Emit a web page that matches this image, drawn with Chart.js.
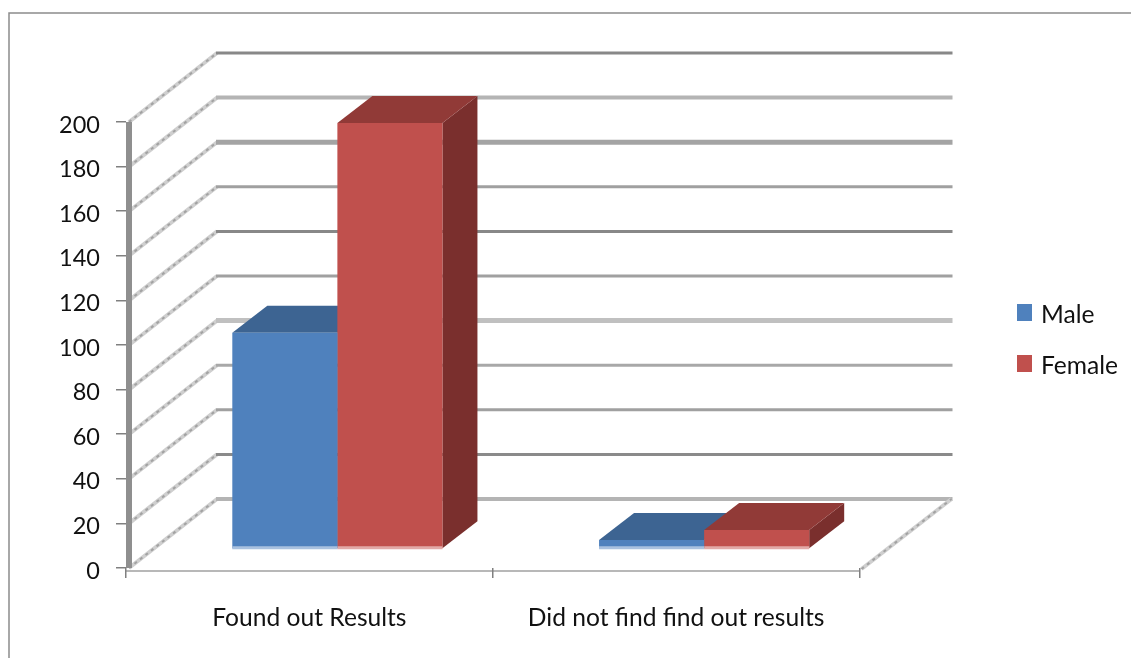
<!DOCTYPE html>
<html lang="en">
<head>
    <meta charset="UTF-8">
    <title>Found out Results</title>
    <style>
        body {
            margin: 0;
            padding: 0;
            background-color: #ffffff;
        }
        canvas {
            display: block;
        }
    </style>
</head>
<body>
    <canvas id="chart" width="1131" height="658"></canvas>

    <script src="https://cdn.jsdelivr.net/npm/chart.js"></script>
    <script>
        const categories = ['Found out Results', 'Did not find find out results'];
        const maleValues = [97, 4];
        const femaleValues = [191, 8.5];
        const tickStep = 20;
        const axisMax = 200;

        // Box shading for each series: front comes from the dataset
        const faceColors = {
            Male: { top: '#3d6492', side: '#34567f', strip: '#a9c1df' },
            Female: { top: '#913a37', side: '#7a2f2d', strip: '#e2a9a7' }
        };

        // Back wall lines, bottom to top
        const wallLineColors = ['#b4b4b4', '#8a8a8a', '#a0a0a0', '#a8a8a8', '#c0c0c0', '#a0a0a0', '#888888', '#a0a0a0', '#a4a4a4', '#b4b4b4', '#888888'];
        const wallLineWidths = [4, 3, 3, 3, 5, 3, 3, 3, 5, 4, 3];

        // Perspective offsets in pixels
        const wallDepth = { x: 90, y: -69 };
        const barShift = { x: 28, y: -19 };
        const barDepth = { x: 35, y: -27 };

        const box3d = {
            id: 'box3d',
            beforeDraw(chart) {
                const ctx = chart.ctx;
                const { left, right, bottom } = chart.chartArea;
                const yScale = chart.scales.y;

                ctx.save();
                // outer frame
                ctx.strokeStyle = '#8c8c8c';
                ctx.lineWidth = 1.5;
                ctx.beginPath();
                ctx.moveTo(9, 658);
                ctx.lineTo(9, 13);
                ctx.lineTo(1131, 13);
                ctx.stroke();

                // side wall and back wall lines
                for (let v = 0, i = 0; v <= axisMax; v += tickStep, i++) {
                    const y = yScale.getPixelForValue(v);
                    sideLine(ctx, left + 3, y, left + wallDepth.x + 1, y + wallDepth.y);
                    ctx.strokeStyle = wallLineColors[i];
                    ctx.lineWidth = wallLineWidths[i];
                    ctx.beginPath();
                    ctx.moveTo(left + wallDepth.x, y + wallDepth.y);
                    ctx.lineTo(right + wallDepth.x + 3, y + wallDepth.y);
                    ctx.stroke();
                }
                // floor edge on the right
                sideLine(ctx, right + 2, bottom + 1, right + wallDepth.x + 2, bottom + wallDepth.y);

                // thick left edge and the base line
                ctx.fillStyle = '#8f8f8f';
                ctx.fillRect(left, yScale.top, 6, bottom - yScale.top);
                ctx.strokeStyle = '#a0a0a0';
                ctx.lineWidth = 1.5;
                ctx.beginPath();
                ctx.moveTo(left, bottom + 3);
                ctx.lineTo(right, bottom + 3);
                ctx.stroke();
                ctx.restore();
            },
            // Side and top faces go first so every front face lands over them
            beforeDatasetsDraw(chart) {
                const ctx = chart.ctx;
                ctx.save();
                ctx.translate(barShift.x, barShift.y);
                chart.getSortedVisibleDatasetMetas().forEach(meta => {
                    const colors = faceColors[meta.label];
                    meta.data.forEach(bar => {
                        const { x, y, base, width } = bar.getProps(['x', 'y', 'base', 'width'], true);
                        const l = x - width / 2;
                        const r = x + width / 2;
                        ctx.fillStyle = colors.side;
                        ctx.beginPath();
                        ctx.moveTo(r, y);
                        ctx.lineTo(r + barDepth.x, y + barDepth.y);
                        ctx.lineTo(r + barDepth.x, base + barDepth.y);
                        ctx.lineTo(r, base);
                        ctx.closePath();
                        ctx.fill();

                        ctx.fillStyle = colors.top;
                        ctx.beginPath();
                        ctx.moveTo(l, y);
                        ctx.lineTo(l + barDepth.x, y + barDepth.y);
                        ctx.lineTo(r + barDepth.x, y + barDepth.y);
                        ctx.lineTo(r, y);
                        ctx.closePath();
                        ctx.fill();
                    });
                });
                ctx.restore();
            },
            beforeDatasetDraw(chart) {
                chart.ctx.save();
                chart.ctx.translate(barShift.x, barShift.y);
            },
            afterDatasetDraw(chart, args) {
                const ctx = chart.ctx;
                const colors = faceColors[args.meta.label];
                // pale strip along the bottom of the bar
                args.meta.data.forEach(bar => {
                    const { x, base, width } = bar.getProps(['x', 'base', 'width'], true);
                    ctx.fillStyle = colors.strip;
                    ctx.fillRect(x - width / 2, base - 2, width, 3);
                });
                ctx.restore();
            },
            // Legend in the right margin, taken from the datasets
            afterDraw(chart) {
                const ctx = chart.ctx;
                ctx.save();
                ctx.font = '24.6px Lato';
                ctx.textBaseline = 'middle';
                chart.data.datasets.forEach((ds, i) => {
                    ctx.fillStyle = ds.backgroundColor;
                    ctx.fillRect(1017, 304 + i * 51, 15, 17);
                    ctx.fillStyle = '#111111';
                    ctx.fillText(ds.label, 1041, 315 + i * 51);
                });
                ctx.restore();
            }
        };

        // Diagonal wall line: pale band with a darker broken core
        function sideLine(ctx, x1, y1, x2, y2) {
            ctx.beginPath();
            ctx.moveTo(x1, y1);
            ctx.lineTo(x2, y2);
            ctx.strokeStyle = '#cfcfcf';
            ctx.lineWidth = 4;
            ctx.stroke();
            ctx.setLineDash([3, 4]);
            ctx.strokeStyle = '#a2a2a2';
            ctx.lineWidth = 2;
            ctx.stroke();
            ctx.setLineDash([]);
        }

        new Chart(document.getElementById('chart'), {
            type: 'bar',
            data: {
                labels: categories,
                datasets: [
                    { label: 'Male', data: maleValues, backgroundColor: '#4f81bd', clip: false },
                    { label: 'Female', data: femaleValues, backgroundColor: '#c0504d', clip: false }
                ]
            },
            options: {
                responsive: false,
                animation: false,
                barPercentage: 1,
                categoryPercentage: 0.573,
                layout: { padding: { top: 122, right: 271.5 } },
                plugins: {
                    legend: { display: false },
                    tooltip: { enabled: false }
                },
                scales: {
                    x: {
                        afterFit: s => { s.height = 90; },
                        border: { display: false },
                        grid: { drawOnChartArea: false, tickLength: 10, color: '#808080', lineWidth: 1.5, offset: true },
                        ticks: { font: { family: 'Lato', size: 24.6 }, color: '#111111', padding: 25, maxRotation: 0 }
                    },
                    y: {
                        min: 0,
                        max: axisMax,
                        afterFit: s => { s.width = 126; },
                        border: { display: false },
                        grid: { drawOnChartArea: false, tickLength: 10, color: '#808080', lineWidth: 1.5 },
                        ticks: { stepSize: tickStep, font: { family: 'Lato', size: 23.5 }, color: '#111111', padding: 16, labelOffset: 3 }
                    }
                }
            },
            plugins: [box3d]
        });
    </script>
</body>
</html>
